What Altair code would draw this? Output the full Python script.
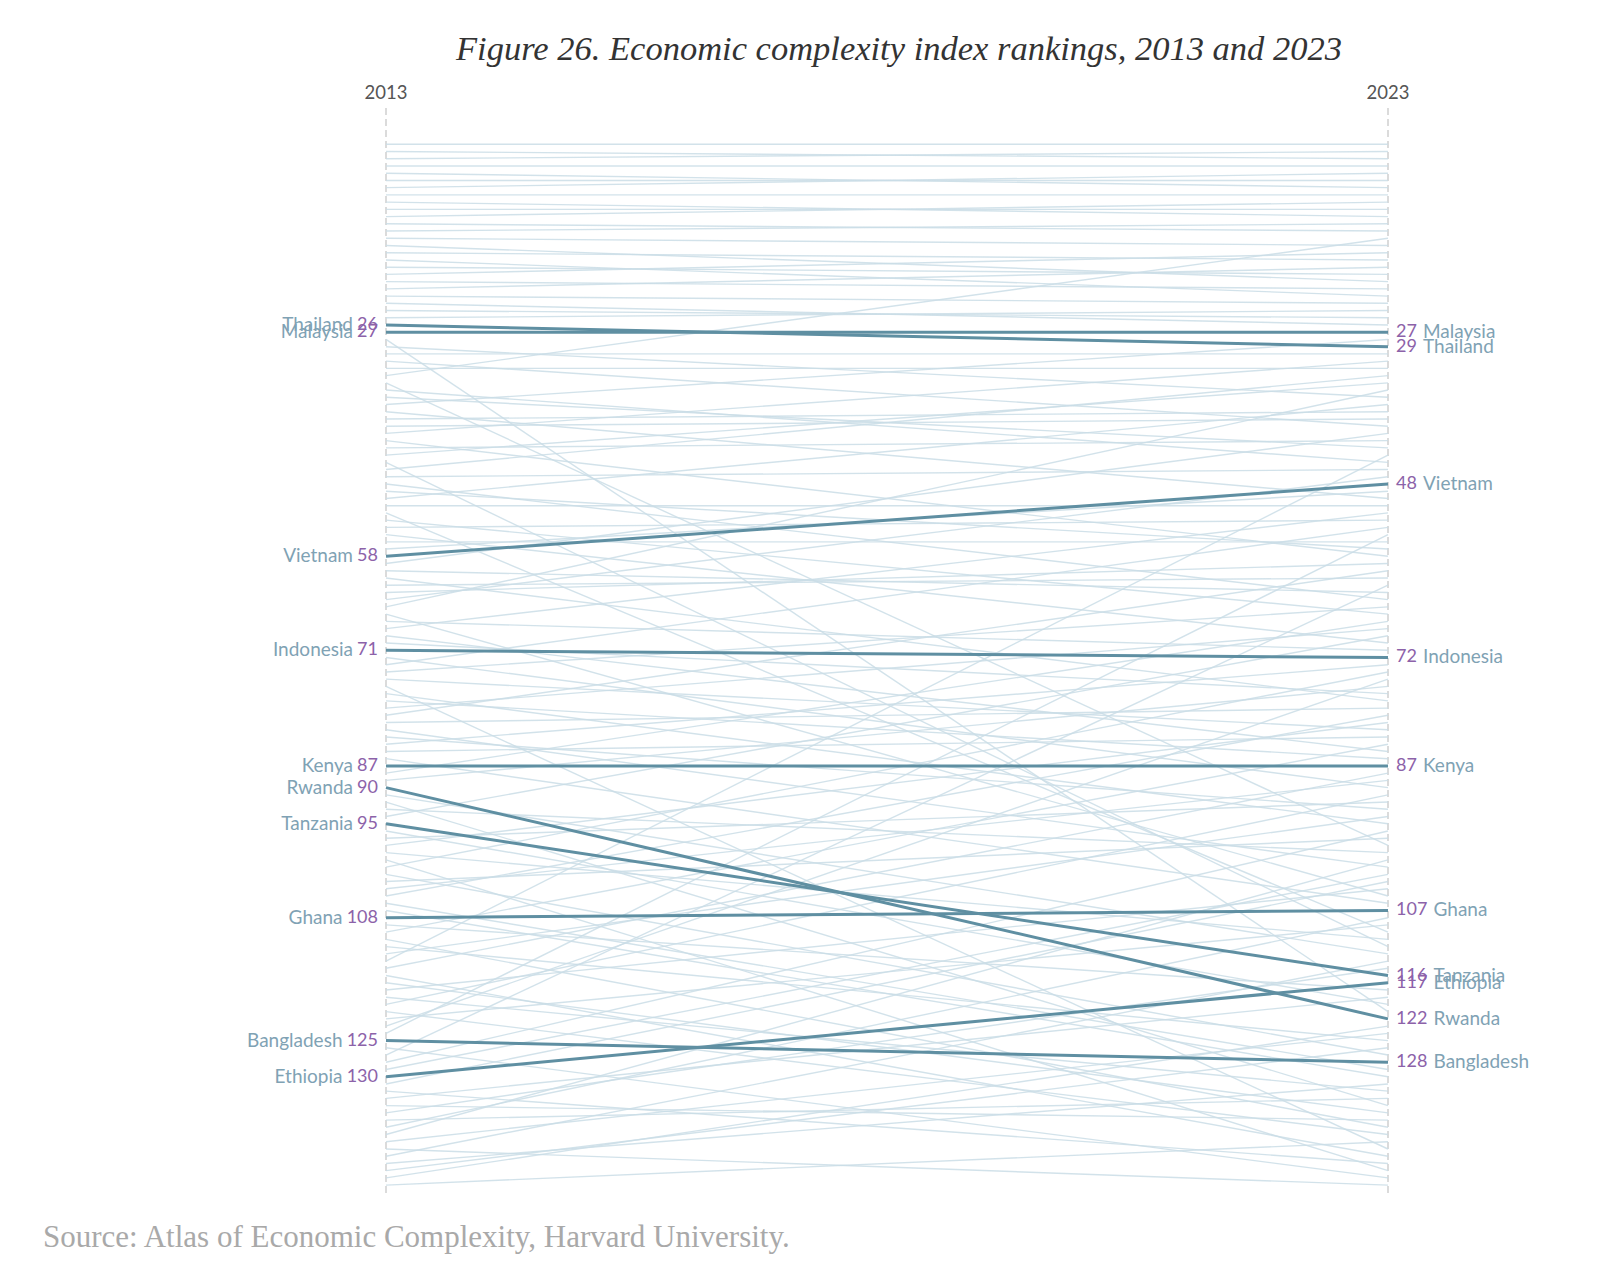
import altair as alt
import pandas as pd

# Highlighted economies and their ECI ranks
countries = ["Thailand", "Malaysia", "Vietnam", "Indonesia", "Kenya",
             "Rwanda", "Tanzania", "Ghana", "Bangladesh", "Ethiopia"]
rank_2013 = [26, 27, 58, 71, 87, 90, 95, 108, 125, 130]
rank_2023 = [29, 27, 48, 72, 87, 122, 116, 107, 128, 117]

# All other ranked economies (2013 rank -> 2023 rank)
bg_rank_2013 = [
    1, 2, 3, 4, 5, 6, 7, 8, 9, 10, 11, 12, 13, 14, 15, 16, 17, 18, 19, 20,
    21, 22, 23, 24, 25, 28, 29, 30, 31, 32, 33, 34, 35, 36, 37, 38, 39, 40,
    41, 42, 43, 44, 45, 46, 47, 48, 49, 50, 51, 52, 53, 54, 55, 56, 57, 59,
    60, 61, 62, 63, 64, 65, 66, 67, 68, 69, 70, 72, 73, 74, 75, 76, 77, 78,
    79, 80, 81, 82, 83, 84, 85, 86, 88, 89, 91, 92, 93, 94, 96, 97, 98, 99,
    100, 101, 102, 103, 104, 105, 106, 107, 109, 110, 111, 112, 113, 114,
    115, 116, 117, 118, 119, 120, 121, 122, 123, 124, 126, 127, 128, 129,
    131, 132, 133, 134, 135, 136, 137, 138, 139, 140, 141, 142, 143, 144, 145,
]
bg_rank_2023 = [
    1, 3, 2, 4, 7, 6, 5, 8, 11, 10, 9, 13, 12, 15, 20, 17, 22, 19, 16, 21,
    18, 23, 26, 25, 24, 121, 36, 30, 40, 32, 14, 98, 45, 43, 28, 50, 38, 39,
    31, 58, 42, 34, 112, 33, 46, 64, 57, 37, 51, 110, 66, 53, 70, 56, 49, 41,
    63, 78, 61, 59, 47, 35, 105, 71, 52, 85, 77, 90, 54, 65, 82, 140, 95, 86,
    68, 60, 79, 101, 93, 73, 83, 106, 67, 76, 113, 134, 99, 69, 120, 92, 81, 111,
    143, 74, 127, 97, 89, 80, 129, 130, 118, 84, 137, 125, 94, 44,
    88, 141, 135, 104, 132, 91, 138, 109, 75, 55, 144, 62, 96, 102,
    103, 142, 119, 136, 115, 133, 108, 100, 124, 145, 114, 131, 126, 123, 139,
]

years = [2013, 2023]
year_labels = ["2013", "2023"]

title_text = "Figure 26. Economic complexity index rankings, 2013 and 2023"
source_text = "Source: Atlas of Economic Complexity, Harvard University."

# ---- canvas geometry --------------------------------------------------------
W, H = 1607, 1270
X_LEFT, X_RIGHT = 386.0, 1388.0          # pixel columns of the two year axes
PX_PER_YEAR = (X_RIGHT - X_LEFT) / (years[1] - years[0])
Y_RANK1, PX_PER_RANK = 144.3, 7.228      # pixel row of rank 1, spacing per rank

x_scale = alt.Scale(domain=[years[0] - X_LEFT / PX_PER_YEAR,
                            years[1] + (W - X_RIGHT) / PX_PER_YEAR],
                    range=[0, W], nice=False, zero=False)
y_scale = alt.Scale(domain=[1 - Y_RANK1 / PX_PER_RANK,
                            1 + (H - Y_RANK1) / PX_PER_RANK],
                    reverse=True, nice=False, zero=False)

LABEL_FONT = "Lato"
NAME_SIZE = 19
NUM_SIZE = 18
NAME_COLOR = "#7fa2b4"
NUM_COLOR = "#8c62a9"
LINE_COLOR = "#5f8fa2"
BG_COLOR = "#cadde6"
DIGIT_W = 10.5
NUM_PAD = 8
GAP_LEFT = 4
GAP_RIGHT = 6

# ---- tables -----------------------------------------------------------------
n_bg = len(bg_rank_2013)
bg = pd.DataFrame({
    "id": list(range(n_bg)) * 2,
    "year": [years[0]] * n_bg + [years[1]] * n_bg,
    "rank": bg_rank_2013 + bg_rank_2023,
})
n_hl = len(countries)
hl = pd.DataFrame({
    "country": countries * 2,
    "year": [years[0]] * n_hl + [years[1]] * n_hl,
    "rank": rank_2013 + rank_2023,
})

left = pd.DataFrame({"country": countries, "rank": rank_2013})
left["num"] = left["rank"].astype(str)
left["year"] = years[0]
left["name_year"] = years[0] - (NUM_PAD + left["num"].str.len() * DIGIT_W + GAP_LEFT) / PX_PER_YEAR

right = pd.DataFrame({"country": countries, "rank": rank_2023})
right["num"] = right["rank"].astype(str)
right["year"] = years[1]
right["name_year"] = years[1] + (NUM_PAD + right["num"].str.len() * DIGIT_W + GAP_RIGHT) / PX_PER_YEAR

year_df = pd.DataFrame({"year": years, "label": year_labels})


def xq(field):
    return alt.X(f"{field}:Q", scale=x_scale, axis=None)


def yq(field):
    return alt.Y(f"{field}:Q", scale=y_scale, axis=None)


# ---- layers -----------------------------------------------------------------
axis_rules = alt.Chart(year_df).mark_rule(
    color="#cfcfcf", strokeWidth=1.5, strokeDash=[7, 4]
).encode(x=xq("year"), y=alt.value(108), y2=alt.value(1193))

year_text = alt.Chart(year_df).mark_text(
    font=LABEL_FONT, fontSize=18.5, color="#555555", baseline="middle"
).encode(x=xq("year"), y=alt.value(93), text="label:N")

bg_lines = alt.Chart(bg).mark_line(
    color=BG_COLOR, strokeWidth=1.4, opacity=0.85
).encode(x=xq("year"), y=yq("rank"), detail="id:N")

hl_lines = alt.Chart(hl).mark_line(
    color=LINE_COLOR, strokeWidth=3
).encode(x=xq("year"), y=yq("rank"), detail="country:N")

left_num = alt.Chart(left).mark_text(
    font=LABEL_FONT, fontSize=NUM_SIZE, color=NUM_COLOR,
    align="right", baseline="middle", dx=-NUM_PAD
).encode(x=xq("year"), y=yq("rank"), text="num:N")

left_name = alt.Chart(left).mark_text(
    font=LABEL_FONT, fontSize=NAME_SIZE, color=NAME_COLOR,
    align="right", baseline="middle"
).encode(x=xq("name_year"), y=yq("rank"), text="country:N")

right_num = alt.Chart(right).mark_text(
    font=LABEL_FONT, fontSize=NUM_SIZE, color=NUM_COLOR,
    align="left", baseline="middle", dx=NUM_PAD
).encode(x=xq("year"), y=yq("rank"), text="num:N")

right_name = alt.Chart(right).mark_text(
    font=LABEL_FONT, fontSize=NAME_SIZE, color=NAME_COLOR,
    align="left", baseline="middle"
).encode(x=xq("name_year"), y=yq("rank"), text="country:N")

title = alt.Chart(pd.DataFrame({"t": [title_text]})).mark_text(
    font="Liberation Serif", fontSize=34.5, fontStyle="italic", color="#333333",
    align="center", baseline="middle"
).encode(x=alt.value(899), y=alt.value(50), text="t:N")

source = alt.Chart(pd.DataFrame({"t": [source_text]})).mark_text(
    font="Liberation Serif", fontSize=31, color="#a9a9a9",
    align="left", baseline="middle"
).encode(x=alt.value(43), y=alt.value(1238), text="t:N")

chart = alt.layer(
    axis_rules, bg_lines, hl_lines, year_text,
    left_name, left_num, right_num, right_name, title, source
).properties(
    width=W, height=H,
    autosize=alt.AutoSizeParams(type="none"),
    padding=0,
    background="white",
).configure_view(stroke=None)

chart.save("out.html", embed_options={"renderer": "svg", "actions": False})
